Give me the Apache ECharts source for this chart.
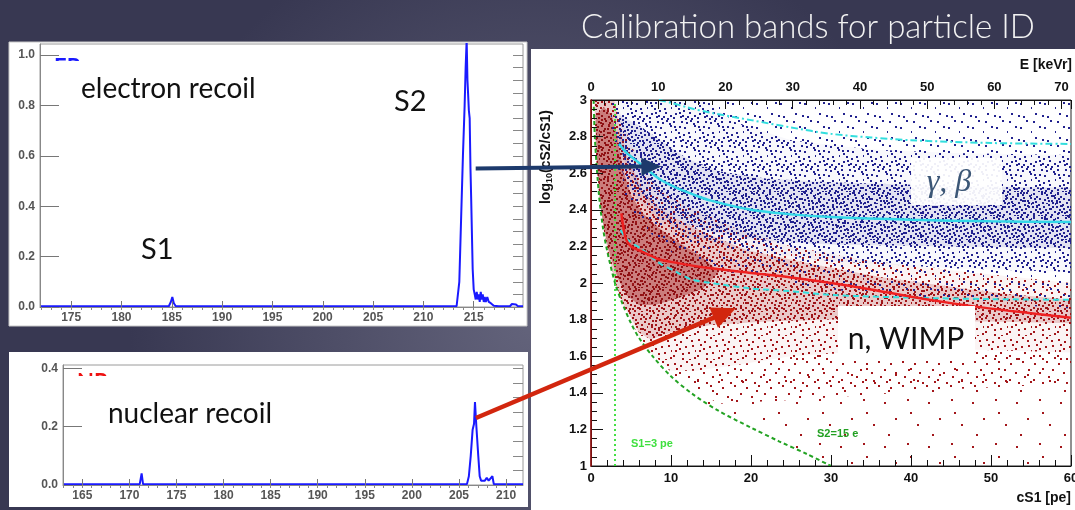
<!DOCTYPE html>
<html><head><meta charset="utf-8">
<script src="https://cdn.jsdelivr.net/npm/echarts@6/dist/echarts.min.js"></script>
<style>html,body{margin:0;padding:0;background:#4a4a64;}#c{width:1075px;height:510px;}</style>
</head><body><div id="c"></div>
<script>
// ---------- pulse panels (time in µs, normalised amplitude) ----------
const ER_PULSE = [[171.9,0.003],[184.7,0.003],[184.9,0.02],[185.05,0.04],[185.2,0.015],[185.4,0.003],
 [213.3,0.003],[213.57,0.1],[213.77,0.38],[213.93,0.6],[214.1,0.8],[214.2,0.95],[214.3,1.06],[214.38,0.9],
 [214.44,0.85],[214.52,0.78],[214.6,0.75],[214.68,0.55],[214.75,0.43],[214.9,0.15],[215.0,0.07],[215.1,0.05],
 [215.2,0.03],[215.3,0.06],[215.4,0.03],[215.5,0.05],[215.6,0.02],[215.7,0.06],[215.8,0.03],[215.9,0.05],
 [216.0,0.02],[216.1,0.04],[216.2,0.02],[216.35,0.04],[216.5,0.02],[216.7,0.015],[217.0,0.005],[217.5,0.003],
 [218.6,0.003],[218.8,0.012],[219.2,0.01],[219.4,0.003],[219.9,0.003]];
const NR_PULSE = [[163,0.003],[171.1,0.003],[171.3,0.04],[171.45,0.003],[205.85,0.003],[206.05,0.03],[206.25,0.1],
 [206.45,0.19],[206.6,0.21],[206.7,0.285],[206.85,0.2],[207.05,0.1],[207.2,0.03],[207.35,0.015],[207.55,0.02],
 [207.75,0.015],[207.95,0.025],[208.15,0.015],[208.35,0.02],[208.55,0.03],[208.7,0.003],[211.8,0.003]];
const ER_XTICKS = [175,180,185,190,195,200,205,210,215];
const ER_YTICKS = [0,0.2,0.4,0.6,0.8,1.0];
const NR_XTICKS = [165,170,175,180,185,190,195,200,205,210];
const NR_YTICKS = [0,0.2,0.4];
const E_TICKS = [0,10,20,30,40,50,60,70];

// ---------- discrimination plot: cS1 [pe] vs log10(cS2/cS1) ----------
const ER_UPPER = [[8.5,3.0],[10,2.985],[12,2.96],[15,2.93],[20,2.89],[25,2.85],[30,2.815],[35,2.795],[40,2.78],[50,2.765],[60,2.76]];
const ER_MEAN = [[3.5,2.76],[4.5,2.71],[6.5,2.64],[8.5,2.57],[10.7,2.52],[13,2.48],[15,2.45],[20,2.4],[25,2.375],[30,2.36],[40,2.345],[50,2.337],[60,2.333]];
const ER_LOWER = [[3.7,2.29],[4.5,2.24],[6.5,2.18],[8.5,2.11],[10.7,2.06],[12.5,2.02],[15,2.0],[20,1.97],[25,1.955],[30,1.935],[40,1.92],[50,1.912],[60,1.908]];
const NR_MEAN = [[3.8,2.38],[4.3,2.25],[5,2.2],[6.5,2.17],[8.5,2.13],[10.7,2.11],[15,2.08],[20,2.055],[25,2.03],[30,2.0],[35,1.965],[40,1.925],[45,1.89],[50,1.86],[55,1.835],[60,1.81]];
const S1_CUT = [[3,1],[3,3]];
const S2_CUT = [[0.33,3.0],[0.5,2.78],[1,2.48],[1.5,2.3],[2,2.18],[3,2.0],[4,1.88],[5,1.78],[6,1.7],[7.7,1.6],[10,1.49],[12.8,1.39],[16,1.3],[20,1.21],[23.5,1.135],[27,1.065],[30,1.0]];
// outlines of the event clouds (density levels)
const NR_CORE = [[0.6,2.92],[1.6,2.96],[2.6,2.92],[3.3,2.8],[4,2.62],[5,2.48],[6.5,2.38],[8.5,2.3],[11,2.22],[14,2.14],[16,2.06],[14,1.97],[11,1.92],[8,1.88],[6,1.88],[4.5,1.93],[3.4,2.02],[2.4,2.15],[1.6,2.3],[1.1,2.45],[0.8,2.62],[0.65,2.78]];
const NR_DENSE = [[0.45,3.0],[2.9,3.0],[3.6,2.85],[4.6,2.68],[6.5,2.5],[8.5,2.41],[10.7,2.35],[15,2.26],[19.4,2.18],[28,2.1],[36.5,2.03],[45,1.98],[52,1.94],[60,1.91],[60,1.78],[50,1.79],[40,1.79],[30,1.8],[22,1.79],[15,1.77],[10,1.73],[7.5,1.69],[6,1.73],[5,1.81],[4,1.89],[3,2.01],[2,2.2],[1.2,2.42],[0.7,2.65],[0.5,2.85]];
const NR_WIDE = [[0.4,3.0],[3.2,3.0],[4.2,2.85],[6,2.65],[9,2.5],[13,2.4],[18,2.3],[25,2.2],[35,2.12],[45,2.07],[60,2.0],[60,1.62],[45,1.64],[35,1.63],[25,1.6],[18,1.55],[13,1.52],[10,1.52],[7.7,1.61],[6,1.71],[4,1.88],[3,2.0],[2,2.18],[1.2,2.4],[0.7,2.63],[0.45,2.85]];
const NR_TAIL_NEAR = [[9,1.55],[12.8,1.42],[16,1.34],[25,1.36],[35,1.39],[45,1.42],[60,1.45],[60,1.62],[45,1.64],[35,1.63],[25,1.6],[18,1.55],[13,1.52],[10,1.52]];
const NR_TAIL = [[7.7,1.6],[10,1.49],[12.8,1.39],[16,1.3],[20,1.21],[23.5,1.135],[27,1.065],[30,1.0],[60,1.0],[60,1.62],[45,1.64],[35,1.63],[25,1.6],[18,1.55],[13,1.52],[10,1.52]];
const ER_WIDE = [[2.5,3.0],[60,3.0],[60,1.86],[45,1.9],[35,1.94],[25,1.99],[15,2.08],[10,2.17],[6,2.33],[4,2.5],[3,2.7],[2.5,2.88]];
const ER_DENSE = [[3,3.0],[14,3.0],[18,2.88],[25,2.78],[35,2.73],[45,2.71],[60,2.7],[60,2.06],[45,2.08],[30,2.12],[20,2.17],[12,2.26],[8,2.36],[5,2.5],[3.5,2.65],[3,2.82]];
const ER_CORE = [[3.5,2.92],[6,2.86],[9,2.77],[12,2.68],[16,2.61],[22,2.57],[30,2.55],[45,2.53],[60,2.52],[60,2.19],[45,2.2],[30,2.21],[22,2.23],[15,2.28],[11,2.34],[8,2.42],[6,2.52],[4.5,2.63],[3.5,2.76]];

// ---------- stipple textures (style only, fixed hand-placed dots) ----------
const SET_A = [[2,3],[14,1],[20,9],[7,12],[16,16],[1,19],[10,22],[22,21]];
const SET_B = [[8,5],[19,4],[4,8],[13,10],[23,14],[10,17],[3,14],[17,23]];
const SET_C = [[5,0],[11,7],[22,1],[16,6],[0,11],[8,20],[13,19],[20,17]];
const SET_D = [[9,2],[1,5],[17,12],[6,16],[12,14],[21,6],[4,22],[15,20]];
const SET_E = [[3,10],[18,19],[11,0],[23,10],[7,8],[14,23],[19,13],[0,2]];
const SET_F = [[3,4],[17,2],[29,8],[9,14],[23,17],[2,25],[14,28],[31,30],[26,1],[7,33],[20,11],[12,21],[30,22],[5,18]];
const SET_SPARSE = [[4,6],[27,3],[15,22],[37,28],[8,38],[30,16]];
function tile(size, pts, color, d, mirror){
  const c=document.createElement('canvas'); c.width=c.height=size;
  const g=c.getContext('2d'); g.fillStyle=color;
  pts.forEach(p=>{ const x = mirror ? (size-1-p[0]) : p[0]; g.fillRect(x,p[1],d,d); });
  return {image:c, repeat:'repeat'};
}
const RED='#a3161a', BLUE='#22228f';
const pat = {
  rTail: tile(44, SET_SPARSE, RED, 2),
  rNear: tile(24, SET_A, RED, 2),
  rWide: tile(24, SET_A.concat(SET_B), RED, 2),
  rDense: tile(24, SET_A.concat(SET_B,SET_C,SET_D), RED, 2),
  rCore: tile(24, SET_A.concat(SET_B,SET_C,SET_D,SET_E), '#8e1014', 2),
  rF: tile(34, SET_F, '#9a1418', 2),
  bWide: tile(24, SET_C, BLUE, 2, true),
  bDense: tile(24, SET_C.concat(SET_D,SET_A), BLUE, 2, true),
  bCore: tile(24, SET_C.concat(SET_D,SET_A,SET_B,SET_E), BLUE, 2, true),
  bF: tile(34, SET_F, BLUE, 2, true)
};
function cloud(poly, tint, pats, z){
  return {type:'custom', xAxisIndex:4, yAxisIndex:4, clip:true, silent:true, z:z, data:[poly[0]],
    renderItem:function(params, api){
      const pts = poly.map(p=>api.coord(p));
      const ch = [{type:'polygon', shape:{points:pts}, style:{fill:tint}}];
      pats.forEach(p=>ch.push({type:'polygon', shape:{points:pts}, style:{fill:p}}));
      return {type:'group', children:ch};
    }};
}
function range(a,b,s){const r=[];for(let v=a;v<=b+1e-9;v+=s)r.push(+v.toFixed(3));return r;}

const tickFontL = {fontFamily:'Liberation Sans', fontWeight:'bold', fontSize:12, color:'#555'};
const tickFontR = {fontFamily:'Liberation Sans', fontWeight:'bold', fontSize:13, color:'#111'};
const annot = 'Lato, "Open Sans", sans-serif';

function majorAxis(grid, min, max, ticks, len, fmt, extra){
  return Object.assign({type:'value', gridIndex:grid, min:min, max:max, z:5,
    axisLine:{show:true, lineStyle:{color:'#888'}},
    axisTick:{inside:true, length:len, customValues:ticks, lineStyle:{color:'#777'}},
    axisLabel:Object.assign({customValues:ticks, margin:5, formatter:fmt}, tickFontL),
    splitLine:{show:false}}, extra||{});
}
function minorAxis(grid, min, max, ticks, len, extra){
  return Object.assign({type:'value', gridIndex:grid, min:min, max:max, z:5,
    axisLine:{show:false}, axisLabel:{show:false}, splitLine:{show:false},
    axisTick:{inside:true, length:len, customValues:ticks, lineStyle:{color:'#888'}}}, extra||{});
}

const chart = echarts.init(document.getElementById('c'));
const option = {
  animation:false,
  backgroundColor:{type:'radial', x:0.5, y:0.62, r:0.8, colorStops:[{offset:0,color:'#64647c'},{offset:1,color:'#383852'}]},
  grid:[
    {left:40, top:44, width:483, height:263, show:true, borderColor:'#9a9a9a', backgroundColor:'transparent', outerBoundsMode:'none'},
    {left:63, top:365, width:460, height:120, show:true, borderColor:'#9a9a9a', backgroundColor:'transparent', outerBoundsMode:'none'},
    {left:591, top:100, width:480, height:366, show:true, borderColor:'#222', backgroundColor:'transparent', outerBoundsMode:'none'}
  ],
  xAxis:[
    majorAxis(0,171.9,219.9,ER_XTICKS,6,v=>String(v)),
    minorAxis(0,171.9,219.9,range(172,219,1),3),
    majorAxis(1,162.95,211.8,NR_XTICKS,6,v=>String(v)),
    minorAxis(1,162.95,211.8,range(163,211,1),3),
    {type:'value', gridIndex:2, min:0, max:60, interval:10, position:'bottom', z:5,
      axisLine:{lineStyle:{color:'#111'}}, axisTick:{inside:true, length:11, lineStyle:{color:'#111'}},
      minorTick:{show:true, splitNumber:5, length:6, lineStyle:{color:'#111'}},
      axisLabel:Object.assign({margin:6}, tickFontR), splitLine:{show:false}},
    {type:'value', gridIndex:2, min:0, max:71.4, interval:10, position:'top', z:5,
      axisLine:{lineStyle:{color:'#111'}}, axisTick:{inside:true, length:9, lineStyle:{color:'#111'}},
      minorTick:{show:true, splitNumber:5, length:5, lineStyle:{color:'#111'}},
      axisLabel:Object.assign({margin:6, customValues:E_TICKS}, tickFontR), splitLine:{show:false}}
  ],
  yAxis:[
    majorAxis(0,0,1.044,ER_YTICKS,19,v=>v.toFixed(1)),
    minorAxis(0,0,1.044,range(0.05,1.0,0.05),10),
    majorAxis(1,0,0.412,NR_YTICKS,19,v=>v.toFixed(1)),
    minorAxis(1,0,0.412,range(0.05,0.4,0.05),10),
    {type:'value', gridIndex:2, min:1, max:3, interval:0.2, z:5,
      axisLine:{lineStyle:{color:'#111'}}, axisTick:{inside:true, length:12, lineStyle:{color:'#111'}},
      minorTick:{show:true, splitNumber:4, length:6, lineStyle:{color:'#111'}},
      axisLabel:Object.assign({margin:4}, tickFontR), splitLine:{show:false}},
    {type:'value', gridIndex:2, min:1, max:3, position:'right', z:6,
      axisLine:{show:true, lineStyle:{color:'#a01010', width:1.5}}, axisTick:{show:false}, axisLabel:{show:false}, splitLine:{show:false}}
  ],
  series:[
    {type:'line', xAxisIndex:0, yAxisIndex:0, data:ER_PULSE, showSymbol:false, clip:true, z:4,
      lineStyle:{color:'#1a1aff', width:2}},
    {type:'line', xAxisIndex:2, yAxisIndex:2, data:NR_PULSE, showSymbol:false, clip:true, z:4,
      lineStyle:{color:'#1a1aff', width:2}},
    cloud(NR_TAIL, 'rgba(0,0,0,0)', [pat.rTail], 1),
    cloud(NR_TAIL_NEAR, 'rgba(0,0,0,0)', [pat.rNear], 1),
    cloud(NR_WIDE, 'rgba(170,40,40,0.05)', [pat.rWide], 1),
    cloud(NR_DENSE, 'rgba(170,30,30,0.2)', [pat.rDense, pat.rF], 1),
    cloud(NR_CORE, 'rgba(160,20,20,0.42)', [pat.rCore, pat.rF], 1),
    cloud(ER_WIDE, 'rgba(0,0,0,0)', [pat.bWide], 2),
    cloud(ER_DENSE, 'rgba(40,40,150,0.03)', [pat.bDense], 2),
    cloud(ER_CORE, 'rgba(40,40,150,0.10)', [pat.bCore, pat.bF], 2),
    {type:'line', xAxisIndex:4, yAxisIndex:4, data:S1_CUT, showSymbol:false, z:4,
      lineStyle:{color:'#45e045', width:2, type:[2,3]}},
    {type:'line', xAxisIndex:4, yAxisIndex:4, data:S2_CUT, showSymbol:false, smooth:0.3, clip:true, z:4,
      lineStyle:{color:'#23a323', width:2, type:[4,3]}},
    {type:'line', xAxisIndex:4, yAxisIndex:4, data:ER_UPPER, showSymbol:false, smooth:0.3, clip:true, z:4,
      lineStyle:{color:'#33dede', width:2, type:[7,3,2,3]}},
    {type:'line', xAxisIndex:4, yAxisIndex:4, data:ER_MEAN, showSymbol:false, smooth:0.3, clip:true, z:4,
      lineStyle:{color:'#33d8e8', width:2.5}},
    {type:'line', xAxisIndex:4, yAxisIndex:4, data:ER_LOWER, showSymbol:false, smooth:0.3, clip:true, z:4,
      lineStyle:{color:'#33dede', width:2, type:[6,4]}},
    {type:'line', xAxisIndex:4, yAxisIndex:4, data:NR_MEAN, showSymbol:false, smooth:0.3, clip:true, z:4,
      lineStyle:{color:'#ee2020', width:2.5}}
  ],
  graphic:[
    {type:'rect', z:-10, shape:{x:9, y:42, width:518, height:284}, style:{fill:'#fff', stroke:'#c8c8c8', lineWidth:1}},
    {type:'rect', z:-10, shape:{x:9, y:352, width:519, height:155}, style:{fill:'#fff'}},
    {type:'rect', z:-10, shape:{x:531, y:49, width:544, height:461}, style:{fill:'#fff'}},
    {type:'text', z:20, x:808, y:27, style:{text:'Calibration bands for particle ID', fill:'#f2f2f2', font:'300 33px '+annot, align:'center', verticalAlign:'middle'}},
    // partially hidden legend labels
    {type:'text', z:20, x:54, y:57, style:{text:'ER', fill:'#1a1aff', font:'bold 22px '+annot, align:'left', verticalAlign:'top'}},
    {type:'rect', z:21, shape:{x:50, y:61, width:60, height:22}, style:{fill:'#fff'}},
    {type:'text', z:20, x:77, y:372, style:{text:'NR', fill:'#ee1111', font:'bold 22px '+annot, align:'left', verticalAlign:'top'}},
    {type:'rect', z:21, shape:{x:74, y:376, width:60, height:22}, style:{fill:'#fff'}},
    {type:'text', z:22, x:81, y:89, style:{text:'electron recoil', fill:'#111', font:'28px '+annot, align:'left', verticalAlign:'middle'}},
    {type:'text', z:22, x:394, y:102, style:{text:'S2', fill:'#111', font:'29px '+annot, align:'left', verticalAlign:'middle'}},
    {type:'text', z:22, x:141, y:250, style:{text:'S1', fill:'#111', font:'29px '+annot, align:'left', verticalAlign:'middle'}},
    {type:'text', z:22, x:108, y:414, style:{text:'nuclear recoil', fill:'#111', font:'28px '+annot, align:'left', verticalAlign:'middle'}},
    // scatter annotations
    {type:'rect', z:22, shape:{x:911, y:158, width:91, height:47}, style:{fill:'rgba(255,255,255,0.93)'}},
    {type:'text', z:23, x:949, y:183, style:{text:'γ, β', fill:'#3b5676', font:'italic 32px "Liberation Serif", serif', align:'center', verticalAlign:'middle'}},
    {type:'rect', z:22, shape:{x:838, y:306, width:137, height:55}, style:{fill:'#fff'}},
    {type:'text', z:23, x:906, y:339, style:{text:'n, WIMP', fill:'#111', font:'30px '+annot, align:'center', verticalAlign:'middle'}},
    {type:'text', z:23, x:631, y:444, style:{text:'S1=3 pe', fill:'#3fe03f', font:'bold 11px "Liberation Sans"', align:'left', verticalAlign:'middle'}},
    {type:'text', z:23, x:817, y:434, style:{text:'S2=15 e', fill:'#22a022', font:'bold 11px "Liberation Sans"', align:'left', verticalAlign:'middle'}},
    {type:'text', z:23, x:1072, y:65, style:{text:'E [keVr]', fill:'#111', font:'bold 14px "Liberation Sans"', align:'right', verticalAlign:'middle'}},
    {type:'text', z:23, x:1071, y:498, style:{text:'cS1 [pe]', fill:'#111', font:'bold 14px "Liberation Sans"', align:'right', verticalAlign:'middle'}},
    {type:'text', z:23, x:546, y:157, rotation:Math.PI/2,
      style:{text:'{a|log}{s|10}{a|(cS2/cS1)}', align:'center', verticalAlign:'middle',
        rich:{a:{font:'bold 14px "Liberation Sans"', fill:'#111'}, s:{font:'bold 9px "Liberation Sans"', fill:'#111', padding:[8,0,0,0]}}}}
  ]
};
chart.setOption(option);

function arrow(id, from, fromAxes, to, toAxes, color, w, hl, hw){
  const a = chart.convertToPixel(fromAxes, from), b = chart.convertToPixel(toAxes, to);
  const dx=b[0]-a[0], dy=b[1]-a[1], L=Math.hypot(dx,dy), ux=dx/L, uy=dy/L;
  const bx=b[0]-ux*hl, by=b[1]-uy*hl;
  return [
    {id:id+'l', type:'line', z:30, shape:{x1:a[0], y1:a[1], x2:bx+ux*2, y2:by+uy*2}, style:{stroke:color, lineWidth:w}},
    {id:id+'h', type:'polygon', z:30, shape:{points:[[b[0],b[1]],[bx-uy*hw,by+ux*hw],[bx+uy*hw,by-ux*hw]]}, style:{fill:color}}
  ];
}
const g = [].concat(
  arrow('ab', [215.2,0.55], {xAxisIndex:0,yAxisIndex:0}, [8.8,2.637], {xAxisIndex:4,yAxisIndex:4}, '#1d3a6c', 4, 20, 9),
  arrow('ar', [206.8,0.23], {xAxisIndex:2,yAxisIndex:2}, [18.1,1.862], {xAxisIndex:4,yAxisIndex:4}, '#d2260e', 4.5, 24, 11)
);
chart.setOption({graphic:g});
</script></body></html>
